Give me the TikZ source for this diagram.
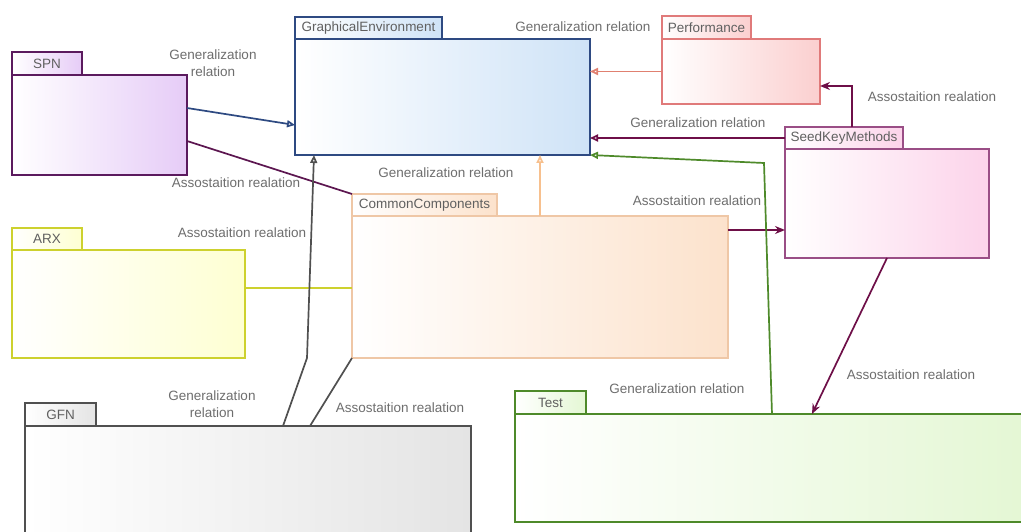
\documentclass[tikz,border=0pt]{standalone}
\usepackage{fontspec}
\setmainfont{Liberation Sans}
\usepackage{tikz}
\usetikzlibrary{positioning,arrows.meta}
\definecolor{geD}{HTML}{2E4A82}
\definecolor{geL}{HTML}{CFE3F7}
\definecolor{spnD}{HTML}{5B1A5E}
\definecolor{spnL}{HTML}{E6CCF7}
\definecolor{arxD}{HTML}{CDD12E}
\definecolor{arxL}{HTML}{FEFFD2}
\definecolor{ccD}{HTML}{EFC7A6}
\definecolor{ccL}{HTML}{FCE2CC}
\definecolor{perfD}{HTML}{E07A7A}
\definecolor{perfL}{HTML}{FBCFCF}
\definecolor{skmD}{HTML}{9A4E86}
\definecolor{skmL}{HTML}{FCD3EA}
\definecolor{gfnD}{HTML}{505050}
\definecolor{gfnL}{HTML}{E4E4E4}
\definecolor{testD}{HTML}{4E8A2A}
\definecolor{testL}{HTML}{E4F7D4}
\definecolor{spnln}{HTML}{5C1650}
\definecolor{skmln}{HTML}{6E0F48}
\definecolor{ccln}{HTML}{F7C08E}
\definecolor{perfln}{HTML}{E08070}
\definecolor{lbtxt}{HTML}{6E6E6E}
\definecolor{tbtxt}{HTML}{606060}
\tikzset{
  pk/.style 2 args={rectangle, draw=#1, left color=white, right color=#2, line width=1.9pt, inner sep=0pt, outer sep=0pt, anchor=north west},
  tb/.style 2 args={rectangle, draw=#1, left color=white, right color=#2, line width=1.9pt, inner sep=0pt, outer sep=0pt, minimum height=22pt, text=tbtxt, font=\fontsize{13.5}{16}\selectfont},
  gen/.style={line width=1.7pt, -{Triangle[open,length=8pt,width=7pt]}},
  asc/.style={line width=1.7pt},
  ascar/.style={line width=1.7pt, -{Stealth[length=10pt,width=8pt]}},
  lb/.style={text=lbtxt, font=\fontsize{13.5}{17}\selectfont, align=center, inner sep=0pt}
}
\begin{document}
\begin{tikzpicture}[x=1pt, y=-1pt]
	\useasboundingbox (0,0) rectangle (1021,532);
	\clip (0,0) rectangle (1021,532);
	\fill[white] (0,0) rectangle (1021,532);
	% packages
	\node[pk={geD}{geL}, minimum width=295pt, minimum height=116pt] (ge) at (295,39) {};
	\node[tb={geD}{geL}, minimum width=147pt, above right=0pt of ge.north west] (getab) {GraphicalEnvironment};
	\node[pk={spnD}{spnL}, minimum width=175pt, minimum height=100pt] (spn) at (12,75) {};
	\node[tb={spnD}{spnL}, minimum width=70pt, minimum height=23pt, above right=0pt of spn.north west] (spntab) {SPN};
	\node[pk={arxD}{arxL}, minimum width=233pt, minimum height=108pt] (arx) at (12,250) {};
	\node[tb={arxD}{arxL}, minimum width=70pt, above right=0pt of arx.north west] (arxtab) {ARX};
	\node[pk={ccD}{ccL}, minimum width=376pt, minimum height=142pt] (cc) at (352,216) {};
	\node[tb={ccD}{ccL}, minimum width=145pt, above right=0pt of cc.north west] (cctab) {CommonComponents};
	\node[pk={perfD}{perfL}, minimum width=158pt, minimum height=65pt] (perf) at (662,39) {};
	\node[tb={perfD}{perfL}, minimum width=89pt, minimum height=23pt, above right=0pt of perf.north west] (perftab) {Performance};
	\node[pk={skmD}{skmL}, minimum width=204pt, minimum height=109pt] (skm) at (785,149) {};
	\node[tb={skmD}{skmL}, minimum width=118pt, above right=0pt of skm.north west] (skmtab) {SeedKeyMethods};
	\node[pk={gfnD}{gfnL}, minimum width=446pt, minimum height=144pt] (gfn) at (25,426) {};
	\node[tb={gfnD}{gfnL}, minimum width=71pt, minimum height=23pt, above right=0pt of gfn.north west] (gfntab) {GFN};
	\node[pk={testD}{testL}, minimum width=514pt, minimum height=108pt] (test) at (515,414) {};
	\node[tb={testD}{testL}, minimum width=71pt, minimum height=23pt, above right=0pt of test.north west] (testtab) {Test};
	%
	\coordinate (tbend) at (764,163);
	\coordinate (gbend) at (307,358);
	\draw[gen, geD] ([yshift=17pt]spn.east) -- ([yshift=-28pt]ge.west);
	\draw[asc, spnln] ([yshift=-16pt]spn.east) -- (cctab.north west);
	\draw[asc, arxD] ([yshift=16pt]arx.east) -- ([yshift=-1pt]cc.west);
	\draw[gen, ccln] (cc.north) -- (cc.north |- ge.south);
	\draw[gen, perfln] (perf.west) -- (perf.west -| ge.east);
	\draw[gen, skmln] (skmtab.west) -- (skmtab.west -| ge.east);
	\draw[ascar, skmln] ([xshift=8pt]skmtab.north) |- ([yshift=-14.5pt]perf.east);
	\draw[ascar, skmln] ([yshift=57pt]cc.east) -- ([yshift=-26.5pt]skm.west);
	\draw[gen, testD] (test.north) -- (tbend) -- (ge.south east);
	\draw[ascar, skmln] (skm.south) -- ([xshift=40pt]test.north);
	\draw[gen, gfnD] ([xshift=35pt]gfn.north) -- (gbend) -- ([xshift=19pt]ge.south west);
	\draw[asc, gfnD] ([xshift=62pt]gfn.north) -- (cc.south west);
	% labels
	\node[lb] (l1) at (213,63) {Generalization\\relation};
	\node[lb] (l2) at (236,183) {Assostaition realation};
	\node[lb] (l3) at (446,173) {Generalization relation};
	\node[lb] (l4) at (242,233) {Assostaition realation};
	\node[lb] (l5) at (583,27) {Generalization relation};
	\node[lb] (l6) at (932,97) {Assostaition realation};
	\node[lb] (l7) at (698,123) {Generalization relation};
	\node[lb] (l8) at (697,201) {Assostaition realation};
	\node[lb] (l9) at (212,404) {Generalization\\relation};
	\node[lb] (l10) at (400,408) {Assostaition realation};
	\node[lb] (l11) at (677,389) {Generalization relation};
	\node[lb] (l12) at (911,375) {Assostaition realation};
\end{tikzpicture}
\end{document}
